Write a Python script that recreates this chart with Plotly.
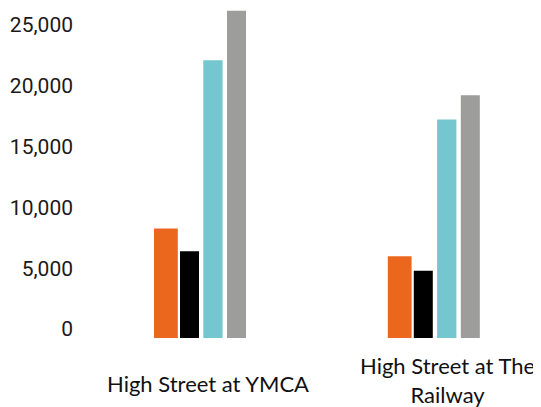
import plotly.graph_objects as go

categories = ["High Street at YMCA", "High Street at The<br>Railway"]
series_names = ["Series 1", "Series 2", "Series 3", "Series 4"]
values_s1 = [9000, 6720]
values_s2 = [7130, 5540]
values_s3 = [22840, 17960]
values_s4 = [26920, 19960]
y_ticks = [0, 5000, 10000, 15000, 20000, 25000]

colors = ["#EC671E", "#000000", "#74C7CF", "#9D9D9C"]
offsets = [-0.231, -0.1198, -0.0201, 0.0813]
widths = [0.1018, 0.0813, 0.0826, 0.0813]

fig = go.Figure()
for name, vals, c, off, w in zip(series_names, [values_s1, values_s2, values_s3, values_s4], colors, offsets, widths):
    fig.add_trace(go.Bar(
        x=categories, y=vals, name=name,
        marker=dict(color=c, line=dict(width=0)),
        offset=off, width=w,
    ))

# page body has an 8px margin, so the figure is laid out 8px smaller
fig.update_layout(
    width=533, height=399,
    margin=dict(l=72, r=0, t=0, b=69),
    plot_bgcolor="white", paper_bgcolor="white",
    showlegend=False,
    barmode="group",
    xaxis=dict(type="category", range=[-0.5475, 1.4243], showticklabels=False,
               showgrid=False, zeroline=False, showline=False, ticks=""),
    yaxis=dict(range=[0, 27138], tickvals=y_ticks, tickformat=",d",
               showgrid=False, zeroline=False, showline=False, ticks="",
               ticklabelshift=-9, ticklabelstandoff=6,
               tickfont=dict(family="Roboto", size=21, color="#1a1a1a")),
)

xshifts = [0, 6]
yshifts = [0, 4]
for cat, xs, ys in zip(categories, xshifts, yshifts):
    fig.add_annotation(x=cat, y=-0.1379, xref="x", yref="paper", text=cat,
                       showarrow=False, xanchor="center", yanchor="middle",
                       xshift=xs, yshift=ys,
                       font=dict(family="Lato", size=22, color="#111111"))

fig.write_html("out.html")
